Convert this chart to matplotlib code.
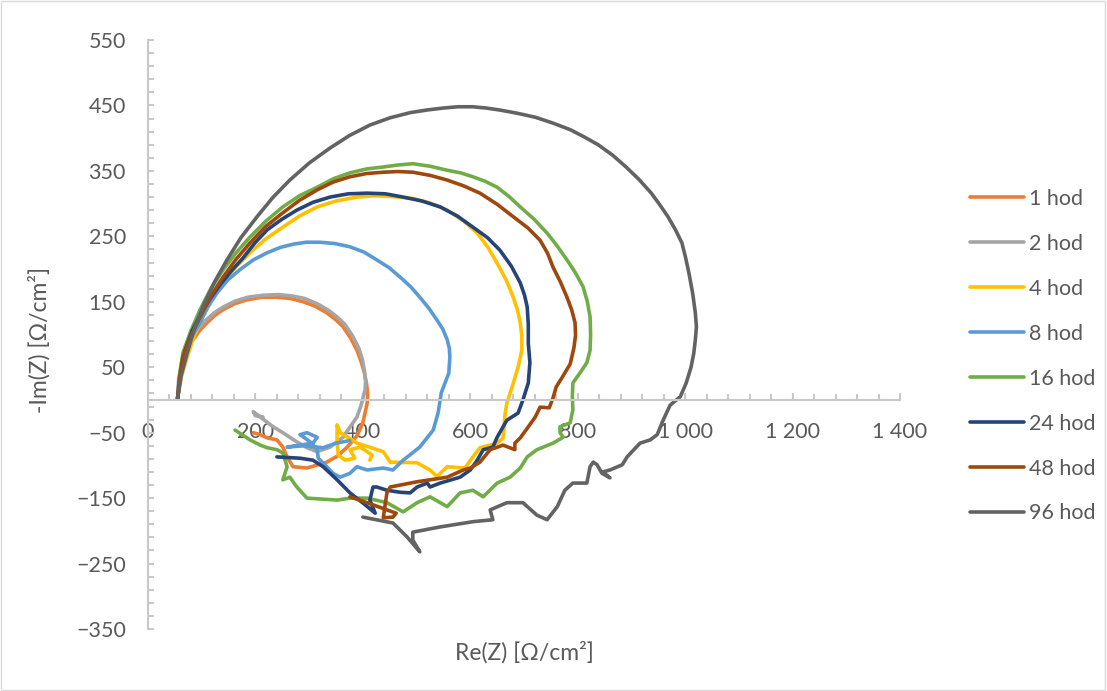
import matplotlib
matplotlib.use('Agg')
import matplotlib.pyplot as plt
from matplotlib.ticker import FixedLocator
from matplotlib.patches import Rectangle

plt.rcParams['font.family'] = ['Lato', 'DejaVu Sans']

# Nyquist data (Re(Z), -Im(Z))
re_1h = [55, 58, 65, 74, 84, 96, 110, 124, 140, 161, 184, 212, 240, 266, 289, 312, 333, 349, 363, 377,
         389, 397, 403, 407, 409, 408, 400, 389, 371, 352, 333, 296, 270, 259, 251, 240, 222, 209, 196]
im_1h = [2, 30, 57, 77, 92, 106, 118, 129, 138, 147, 153, 157, 157, 155, 150, 143, 133, 123, 112, 95,
         76, 58, 41, 24, 8, -5, -35, -55, -72, -86, -95, -104, -102, -87, -72, -61, -58, -53, -50]

re_2h = [55, 57, 63, 72, 82, 94, 108, 123, 140, 162, 186, 214, 242, 268, 292, 315, 336, 352, 366, 380,
         392, 399, 403, 405, 404, 396, 389, 363, 339, 315, 296, 277, 251, 233, 209, 196, 200, 214]
im_2h = [2, 32, 60, 80, 96, 110, 122, 133, 142, 151, 157, 160, 161, 159, 155, 147, 137, 127, 116, 99,
         80, 62, 44, 28, 15, -10, -26, -57, -72, -79, -73, -64, -50, -41, -26, -18, -24, -26]

re_4h = [55, 62, 73, 86, 102, 120, 140, 163, 190, 219, 251, 282, 315, 350, 389, 420, 451, 493, 525, 557,
         587, 613, 633, 650, 667, 680, 688, 693, 696, 696, 689, 678, 668, 665, 661, 650, 618, 605, 590, 557,
         538, 525, 501, 451, 438, 389, 358, 352, 352, 354, 367, 385, 376, 395, 417, 413]
im_4h = [2, 35, 66, 98, 127, 154, 179, 203, 225, 246, 264, 281, 295, 304, 310, 312, 311, 308, 301, 290,
         274, 255, 233, 209, 183, 157, 137, 118, 97, 76, 50, 20, -5, -20, -58, -66, -73, -87, -104, -102,
         -117, -107, -96, -95, -79, -66, -50, -38, -61, -84, -92, -89, -76, -72, -84, -92]

re_8h = [55, 60, 69, 81, 97, 111, 128, 148, 171, 196, 222, 246, 270, 295, 320, 348, 376, 402, 426, 449,
         469, 489, 506, 523, 538, 549, 557, 561, 562, 560, 553, 546, 544, 540, 531, 506, 475, 456, 438, 408,
         389, 376, 358, 344, 333, 317, 315, 302, 283, 296, 315, 307, 283, 259, 290, 326, 350, 376]
im_8h = [2, 35, 69, 96, 118, 142, 163, 183, 199, 214, 225, 233, 238, 241, 241, 239, 234, 226, 214, 202,
         188, 173, 157, 140, 122, 108, 92, 79, 66, 41, 26, 11, 0, -20, -46, -72, -92, -107, -104, -107,
         -102, -112, -118, -112, -102, -89, -76, -64, -53, -50, -57, -66, -69, -72, -70, -73, -66, -62]

re_16h = [55, 59, 65, 80, 97, 117, 140, 164, 190, 219, 251, 282, 315, 345, 376, 407, 438, 465, 493, 526,
          557, 582, 605, 628, 650, 672, 693, 719, 743, 762, 780, 796, 810, 818, 823, 824, 823, 817, 804, 791,
          790, 791, 786, 767, 767, 773, 754, 724, 706, 693, 674, 650, 624, 605, 581, 557, 525, 501, 475, 445,
          408, 376, 352, 296, 277, 264, 251, 259, 251, 240, 222, 209, 190, 162]
im_16h = [2, 38, 72, 106, 138, 170, 199, 225, 249, 273, 295, 312, 325, 338, 347, 353, 356, 359, 361, 357,
          351, 347, 341, 334, 325, 311, 295, 276, 255, 235, 214, 194, 173, 150, 127, 100, 76, 57, 41, 26,
          5, -15, -35, -41, -50, -57, -66, -76, -87, -104, -118, -127, -148, -138, -142, -163, -148, -157, -171, -157,
          -150, -150, -153, -150, -133, -118, -122, -102, -81, -76, -73, -69, -61, -46]

re_24h = [55, 61, 69, 82, 97, 115, 134, 155, 177, 199, 222, 249, 277, 307, 339, 373, 408, 442, 475, 510,
          544, 576, 605, 632, 655, 676, 693, 701, 706, 708, 708, 711, 708, 698, 689, 668, 650, 642, 624, 613,
          600, 581, 544, 525, 520, 501, 488, 469, 445, 426, 419, 413, 423, 404, 376, 352, 326, 307, 283, 240]
im_24h = [2, 40, 76, 105, 130, 154, 176, 197, 217, 240, 260, 276, 290, 302, 310, 315, 316, 315, 310, 304,
          295, 281, 264, 248, 229, 205, 179, 160, 142, 115, 87, 57, 26, 0, -20, -31, -57, -72, -76, -92,
          -107, -118, -127, -133, -127, -133, -142, -141, -138, -133, -133, -153, -173, -160, -142, -122, -102, -92, -89, -87]

re_48h = [55, 59, 65, 80, 97, 117, 140, 164, 190, 219, 251, 282, 315, 345, 376, 407, 438, 465, 493, 526,
          557, 588, 618, 650, 680, 707, 730, 744, 754, 768, 780, 789, 795, 796, 793, 786, 770, 760, 754, 747,
          730, 721, 708, 693, 683, 683, 661, 637, 624, 618, 600, 587, 557, 501, 451, 445, 441, 438, 456, 462,
          445, 408, 376]
im_48h = [2, 35, 66, 98, 127, 159, 188, 215, 240, 265, 286, 305, 321, 333, 341, 346, 348, 349, 348, 343,
          336, 327, 316, 299, 280, 263, 244, 224, 203, 180, 157, 137, 118, 99, 80, 55, 33, 20, 3, -12,
          -11, -26, -41, -58, -66, -76, -69, -76, -89, -95, -104, -107, -118, -125, -133, -141, -163, -180, -179, -173,
          -168, -157, -148]

re_96h = [55, 62, 73, 86, 102, 123, 147, 173, 203, 232, 264, 300, 339, 375, 413, 450, 488, 519, 549, 577,
          605, 630, 655, 688, 721, 754, 786, 812, 838, 865, 890, 914, 937, 953, 968, 982, 994, 1001, 1007, 1014,
          1019, 1021, 1019, 1016, 1011, 1002, 991, 972, 959, 948, 935, 916, 892, 883, 860, 847, 860, 845, 836, 829,
          823, 817, 791, 776, 762, 743, 724, 698, 668, 637, 642, 605, 544, 493, 493, 506, 482, 456, 400]
im_96h = [2, 38, 72, 108, 142, 179, 214, 248, 280, 309, 336, 362, 385, 404, 420, 431, 439, 443, 446, 448,
          448, 446, 443, 438, 432, 423, 413, 402, 390, 374, 356, 337, 316, 298, 280, 260, 240, 217, 194, 163,
          133, 112, 92, 71, 50, 26, 5, -8, -31, -53, -61, -66, -87, -99, -107, -110, -119, -112, -99, -95,
          -102, -127, -127, -138, -163, -183, -176, -157, -157, -168, -183, -186, -194, -202, -214, -232, -209, -188, -179]

labels = ['1 hod', '2 hod', '4 hod', '8 hod', '16 hod', '24 hod', '48 hod', '96 hod']
series_re = [re_1h, re_2h, re_4h, re_8h, re_16h, re_24h, re_48h, re_96h]
series_im = [im_1h, im_2h, im_4h, im_8h, im_16h, im_24h, im_48h, im_96h]
colors = ['#ED7D31', '#A5A5A5', '#FFC000', '#5B9BD5', '#70AD47', '#264478', '#9E480E', '#636363']

x_ticks = [0, 200, 400, 600, 800, 1000, 1200, 1400]
x_tick_labels = ['0', '200', '400', '600', '800', '1 000', '1 200', '1 400']
y_ticks = [-350, -250, -150, -50, 50, 150, 250, 350, 450, 550]

fig = plt.figure(figsize=(11.07, 6.91), dpi=100)
ax = fig.add_axes([0.1337, 0.0897, 0.6793, 0.8524])

for xs, ys, c, lab in zip(series_re, series_im, colors, labels):
    ax.plot(xs, ys, color=c, lw=2.6, label=lab, solid_capstyle='round', solid_joinstyle='round')

ax.set_xlim(0, 1400)
ax.set_ylim(-350, 550)

axis_col = '#C8C8C8'
text_col = '#595959'
for s in ['top', 'right']:
    ax.spines[s].set_visible(False)
ax.spines['bottom'].set_position(('data', 0))
ax.spines['bottom'].set_color(axis_col)
ax.spines['left'].set_color(axis_col)
ax.spines['bottom'].set_linewidth(1.5)
ax.spines['left'].set_linewidth(1.5)

ax.xaxis.set_major_locator(FixedLocator(x_ticks))
ax.xaxis.set_minor_locator(FixedLocator(list(range(0, 1401, 40))))
ax.set_xticklabels(x_tick_labels)
ax.yaxis.set_major_locator(FixedLocator(y_ticks))
ax.yaxis.set_minor_locator(FixedLocator(list(range(-350, 551, 20))))

ax.tick_params(axis='x', which='both', direction='in', color=axis_col, width=1.5, pad=16,
               labelsize=15.5, labelcolor=text_col)
ax.tick_params(axis='x', which='major', length=5)
ax.tick_params(axis='x', which='minor', length=4)
ax.tick_params(axis='y', which='both', direction='in', color=axis_col, width=1.5, length=4, pad=16,
               labelsize=15.5, labelcolor=text_col)

fig.text(0.4734, 0.056, 'Re(Z) [Ω/cm²]', ha='center', va='center', fontsize=16.5, color=text_col)
fig.text(0.036, 0.508, '-Im(Z) [Ω/cm²]', ha='center', va='center', rotation=90, fontsize=16.5, color=text_col)

fig.legend(loc='upper left', bbox_to_anchor=(0.859, 0.755), frameon=False, fontsize=15.5,
           handlelength=2.5, handletextpad=0.25, labelspacing=1.16, labelcolor=text_col)

fig.patches.append(Rectangle((0.001, 0.002), 0.997, 0.996, transform=fig.transFigure,
                             fill=False, edgecolor='#D9D9D9', lw=1))

fig.savefig('out.png', dpi=100)
